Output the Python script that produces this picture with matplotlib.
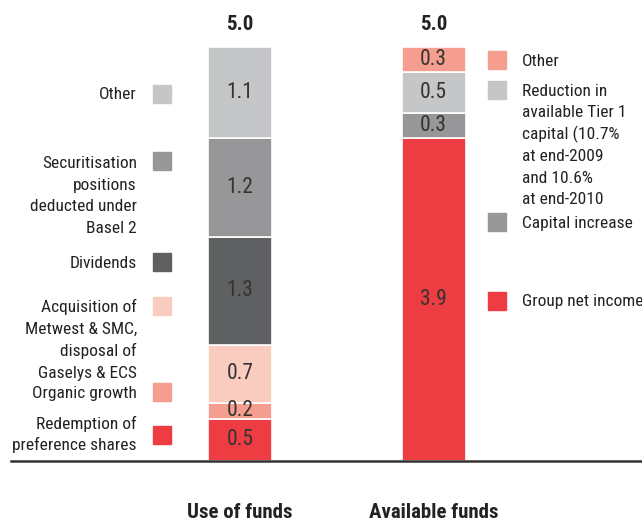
import matplotlib
matplotlib.use("Agg")
import matplotlib.pyplot as plt
from matplotlib import font_manager

# condensed font, first one that is installed
names = {f.name for f in font_manager.fontManager.ttflist}
fams = [f for f in ["Roboto Condensed", "Archivo Narrow", "Liberation Sans Narrow"] if f in names]
plt.rcParams['font.family'] = fams + ['DejaVu Sans']

# data
categories = ["Use of funds", "Available funds"]
use_values = [0.5, 0.2, 0.7, 1.3, 1.2, 1.1]
use_labels = ["Redemption of\npreference shares", "Organic growth",
              "Acquisition of\nMetwest & SMC,\ndisposal of\nGaselys & ECS",
              "Dividends", "Securitisation\npositions\ndeducted under\nBasel 2", "Other"]
avail_values = [3.9, 0.3, 0.5, 0.3]
avail_labels = ["Group net income", "Capital increase",
                "Reduction in\navailable Tier 1\ncapital (10.7%\nat end-2009\nand 10.6%\nat end-2010",
                "Other"]
totals = ["5.0", "5.0"]

use_colors = ["#ee3d42", "#f59e8f", "#facbbf", "#5f6062", "#97979a", "#c5c6c8"]
avail_colors = ["#ee3d42", "#97979a", "#c5c6c8", "#f59e8f"]

W, H = 642, 522
fig = plt.figure(figsize=(W / 100, H / 100), dpi=100)

# axes: y 0 at px 460.5, 5.0 at px 47
y0, y5 = 460.5, 47.0
ax = fig.add_axes([0, (H - y0) / H, 1, (y0 - y5) / H])
ax.set_ylim(0, 5.0)
unit = 193.5
ax.set_xlim(-240 / unit, (W - 240) / unit)
ax.axis("off")
bw = 64 / unit
ppu = (y0 - y5) / 5.0  # pixels per unit

def px(x, y):
    return x / W, 1 - y / H

def stack(xpos, vals, cols):
    bottom = 0
    for v, c in zip(vals, cols):
        ax.bar(xpos, v, bw, bottom=bottom, color=c, edgecolor="white", linewidth=1.2)
        ax.text(xpos, bottom + v / 2, f"{v:.1f}", ha="center", va="center",
                fontsize=15.5, color="#333333")
        bottom += v
    ax.text(xpos, bottom + 22 / ppu, totals[int(xpos)], ha="center", va="center",
            fontsize=15, fontweight="bold", color="#222222")

stack(0, use_values, use_colors)
stack(1, avail_values, avail_colors)

# baseline
fig.add_artist(plt.Line2D([11 / W, 1], [1 - 461 / H] * 2, color="#333333", lw=1.8))

# category labels
for i, c in enumerate(categories):
    ax.text(i, -(513 - y0) / ppu, c, ha="center", va="center",
            fontsize=15, fontweight="bold", color="#222222")

# multi-line legend text with fixed line pitch
def label(x, yc, text, ha):
    lines = text.split("\n")
    n = len(lines)
    for k, ln in enumerate(lines):
        yy = yc + (k - (n - 1) / 2) * 21.7 + 6
        fig.text(*px(x, yy), ln, ha=ha, va="baseline", fontsize=12.5, color="#222222")

# left legend (squares at x 153..171, text right-aligned at 137)
left_sq_y = [434.5, 391.5, 305.5, 261.5, 160.5, 93.5]
left_txt_y = [433.5, 392, 339, 262, 194.5, 93]
for lab, col, sy, ty in zip(use_labels, use_colors, left_sq_y, left_txt_y):
    fig.patches.append(plt.Rectangle(px(153, sy + 9), 18 / W, 18 / H,
                                     transform=fig.transFigure, color=col))
    label(137, ty, lab, "right")

# right legend (squares at x 488..506, text left at 522)
right_sq_y = [300.5, 221.5, 90.5, 60]
right_txt_y = [300, 222, 144, 60]
for lab, col, sy, ty in zip(avail_labels, avail_colors, right_sq_y, right_txt_y):
    fig.patches.append(plt.Rectangle(px(488, sy + 9), 18 / W, 18 / H,
                                     transform=fig.transFigure, color=col))
    label(522, ty, lab, "left")

fig.savefig("out.png", dpi=100)
